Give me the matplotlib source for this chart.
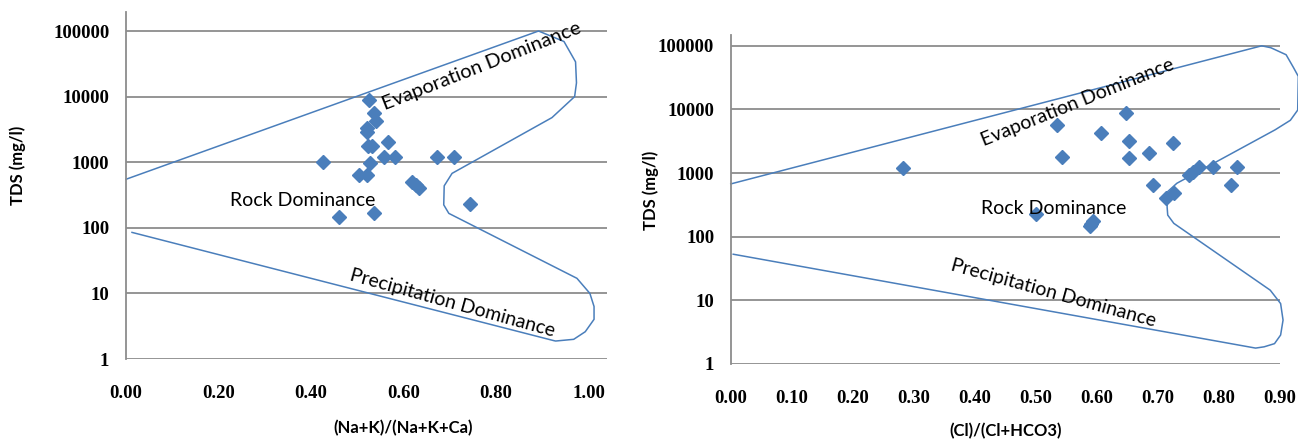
import numpy as np
import matplotlib
matplotlib.use("Agg")
import matplotlib.pyplot as plt

# Datos - grafico izquierdo (Na+K)/(Na+K+Ca)
na_ratio = [0.525, 0.537, 0.540, 0.522, 0.522, 0.566, 0.523, 0.532, 0.558, 0.582,
            0.672, 0.710, 0.426, 0.528, 0.504, 0.520, 0.618, 0.626, 0.634, 0.743,
            0.537, 0.461]
tds_left = [8800, 5600, 4300, 3300, 2900, 2060, 1750, 1780, 1220, 1220,
            1220, 1220, 1000, 980, 640, 630, 500, 450, 400, 232,
            170, 146]

# Datos - grafico derecho (Cl)/(Cl+HCO3)
cl_ratio = [0.283, 0.535, 0.543, 0.606, 0.648, 0.653, 0.653, 0.686, 0.725, 0.692,
            0.714, 0.726, 0.751, 0.758, 0.767, 0.791, 0.830, 0.820, 0.500, 0.593,
            0.590, 0.588]
tds_right = [1200, 5600, 1770, 4300, 8750, 3200, 1720, 2070, 2950, 650,
             400, 485, 940, 1050, 1230, 1240, 1240, 650, 230, 178,
             160, 145]

# Contorno de Gibbs (x, log10 TDS)
gibbs_left_x = [0.013, 0.925, 0.929, 0.968, 0.993, 1.012, 1.012, 1.003, 0.975, 0.947,
                0.698, 0.687, 0.688, 0.705, 0.921, 0.970, 0.974, 0.972, 0.947, 0.892, 0.0]
gibbs_left_logy = [1.93, 0.28, 0.274, 0.30, 0.416, 0.605, 0.80, 1.0, 1.23, 1.33,
                   2.22, 2.35, 2.64, 2.83, 3.68, 4.0, 4.21, 4.53, 4.84, 5.0, 2.74]

gibbs_right_x = [0.004, 0.860, 0.874, 0.891, 0.901, 0.905, 0.901, 0.884, 0.726, 0.716,
                 0.715, 0.716, 0.731, 0.892, 0.917, 0.929, 0.930, 0.922, 0.910, 0.885,
                 0.870, 0.0]
gibbs_right_logy = [1.725, 0.25, 0.27, 0.32, 0.455, 0.69, 0.95, 1.16, 2.21, 2.34,
                    2.47, 2.71, 2.84, 3.68, 3.83, 3.99, 4.52, 4.66, 4.86, 4.97,
                    5.0, 2.83]

yticks = [1, 10, 100, 1000, 10000, 100000]
ytick_labels = ["1", "10", "100", "1000", "10000", "100000"]
xticks_left = [0.0, 0.2, 0.4, 0.6, 0.8, 1.0]
xticks_right = [0.0, 0.1, 0.2, 0.3, 0.4, 0.5, 0.6, 0.7, 0.8, 0.9]

azul = "#4a7ebb"
gris = "#8c8c8c"
fuente_ejes = ["Liberation Serif", "DejaVu Serif"]
fuente_texto = ["Lato", "DejaVu Sans"]

W, H = 1298, 441
fig = plt.figure(figsize=(W / 100, H / 100), dpi=100)


def preparar(ax, xticks, xmax, ytop):
    ax.set_yscale("log")
    ax.set_xlim(0, xmax)
    ax.set_ylim(1, ytop)
    ax.set_yticks(yticks)
    ax.set_yticklabels(ytick_labels)
    ax.yaxis.set_minor_locator(matplotlib.ticker.NullLocator())
    ax.set_xticks(xticks)
    ax.set_xticklabels(["%.2f" % v for v in xticks])
    for s in ["top", "right", "bottom"]:
        ax.spines[s].set_visible(False)
    ax.spines["left"].set_color(gris)
    ax.spines["left"].set_linewidth(1.3)
    for yv in yticks:
        ax.axhline(yv, color=gris, lw=1.3, zorder=1)
    ax.tick_params(axis="both", length=0)
    ax.tick_params(axis="x", pad=19)
    ax.tick_params(axis="y", pad=12)
    for lab in ax.get_xticklabels() + ax.get_yticklabels():
        lab.set_family(fuente_ejes)
        lab.set_fontweight("bold")
        lab.set_fontsize(13.5)


# Grafico izquierdo
ax1 = fig.add_axes([126 / W, (H - 359) / H, (607 - 126) / W, (359 - 12) / H])
preparar(ax1, xticks_left, 1.04, 10 ** 5.29)
ax1.plot(gibbs_left_x, 10 ** np.array(gibbs_left_logy), color=azul, lw=1.1,
         clip_on=False, zorder=2)
ax1.plot(na_ratio, tds_left, "D", color=azul, ms=7, zorder=3)
ax1.text(0.77, 10 ** 4.47, "Evaporation Dominance", rotation=21.5, ha="center",
         va="center", rotation_mode="anchor", fontsize=14.5, family=fuente_texto)
ax1.text(0.382, 265, "Rock Dominance", ha="center", va="center",
         fontsize=14, family=fuente_texto)
ax1.text(0.706, 10 ** 0.854, "Precipitation Dominance", rotation=-15.5, ha="center",
         va="center", rotation_mode="anchor", fontsize=14, family=fuente_texto)
ax1.set_ylabel("TDS (mg/l)", fontsize=12, fontweight="bold", family=fuente_texto)
ax1.yaxis.set_label_coords(-0.208, 0.559)
ax1.set_xlabel("(Na+K)/(Na+K+Ca)", fontsize=12, fontweight="bold", family=fuente_texto)
ax1.xaxis.set_label_coords(0.576, -0.176)

# Grafico derecho
ax2 = fig.add_axes([730.8 / W, (H - 364) / H, (1280 - 730.8) / W, (364 - 35) / H])
preparar(ax2, xticks_right, 0.9, 10 ** 5.17)
ax2.plot(gibbs_right_x, 10 ** np.array(gibbs_right_logy), color=azul, lw=1.1,
         clip_on=False, zorder=2)
ax2.plot(cl_ratio, tds_right, "D", color=azul, ms=7, zorder=3)
ax2.text(0.569, 10 ** 4.11, "Evaporation Dominance", rotation=22, ha="center",
         va="center", rotation_mode="anchor", fontsize=14, family=fuente_texto)
ax2.text(0.529, 274, "Rock Dominance", ha="center", va="center",
         fontsize=14, family=fuente_texto)
ax2.text(0.529, 10 ** 1.11, "Precipitation Dominance", rotation=-15.5, ha="center",
         va="center", rotation_mode="anchor", fontsize=14, family=fuente_texto)
ax2.set_ylabel("TDS (mg/l)", fontsize=12, fontweight="bold", family=fuente_texto)
ax2.yaxis.set_label_coords(-0.131, 0.529)
ax2.set_xlabel("(Cl)/(Cl+HCO3)", fontsize=12, fontweight="bold", family=fuente_texto)
ax2.xaxis.set_label_coords(0.501, -0.18)

fig.savefig("out.png", dpi=100)
